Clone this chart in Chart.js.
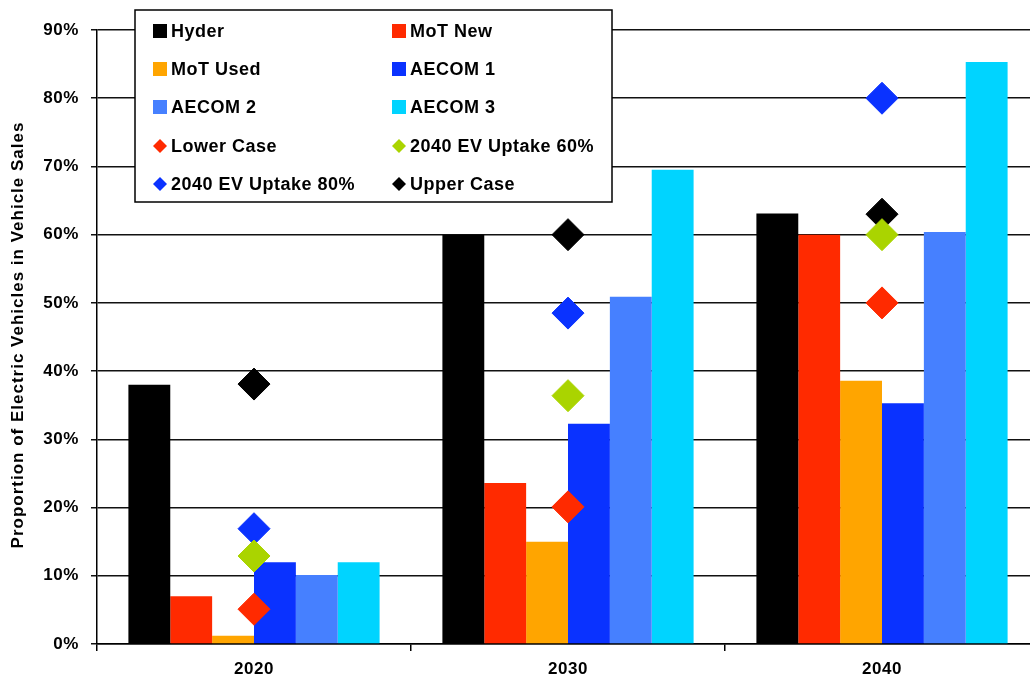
<!DOCTYPE html>
<html>
<head>
<meta charset="utf-8">
<script src="https://cdn.jsdelivr.net/npm/chart.js@4"></script>
<style>
  html, body { margin: 0; padding: 0; overflow: hidden; background: #fff; }
  canvas { display: block; }
</style>
</head>
<body>
<canvas id="evChart" width="1040" height="682"></canvas>
<script>
const years = ['2020', '2030', '2040'];

// bar series (percent)
const hyder = [38, 60, 63.1];
const motNew = [7, 23.6, 60];
const motUsed = [1.2, 15, 38.6];
const aecom1 = [12, 32.3, 35.3];
const aecom2 = [10.1, 50.9, 60.4];
const aecom3 = [12, 69.5, 85.3];

// diamond markers (percent)
const lowerCase = [5.1, 20.1, 50];
const uptake60 = [12.9, 36.4, 60];
const uptake80 = [16.9, 48.5, 80];
const upperCase = [38.1, 60, 63];

const yTicks = [0, 10, 20, 30, 40, 50, 60, 70, 80, 90];
const yTitle = 'Proportion of Electric Vehicles in Vehicle Sales';

const FONT = "'Liberation Sans', Arial, sans-serif";

function bar(label, data, color) {
    return { type: 'bar', label, data, backgroundColor: color, borderWidth: 0, order: 2 };
}
function diamond(label, data, color) {
    return {
        type: 'line', label, data, showLine: false,
        pointStyle: 'rectRot', pointRadius: 16, pointHoverRadius: 16,
        backgroundColor: color, borderColor: color, pointBorderWidth: 1, order: 1
    };
}

const datasets = [
    bar('Hyder', hyder, '#000000'),
    bar('MoT New', motNew, '#ff2a00'),
    bar('MoT Used', motUsed, '#ffa500'),
    bar('AECOM 1', aecom1, '#0a32ff'),
    bar('AECOM 2', aecom2, '#4680ff'),
    bar('AECOM 3', aecom3, '#00d4ff'),
    diamond('Lower Case', lowerCase, '#ff2a00'),
    diamond('2040 EV Uptake 60%', uptake60, '#aad400'),
    diamond('2040 EV Uptake 80%', uptake80, '#0a32ff'),
    diamond('Upper Case', upperCase, '#000000'),
];

// the source renders text a little spaced out
const spacing = {
    id: 'spacing',
    beforeDraw(chart) { chart.ctx.letterSpacing = '0.6px'; }
};

// legend box inside the plot + rotated axis title
const boxLegend = {
    id: 'boxLegend',
    afterDraw(chart) {
        const ctx = chart.ctx;
        const x0 = 135, y0 = 10, w = 477, h = 192;
        ctx.save();
        ctx.fillStyle = '#fff';
        ctx.fillRect(x0, y0, w, h);
        ctx.strokeStyle = '#000';
        ctx.lineWidth = 1.5;
        ctx.strokeRect(x0, y0, w, h);
        ctx.font = 'bold 18px ' + FONT;
        ctx.letterSpacing = '0.5px';
        ctx.textBaseline = 'middle';
        const cols = [153, 392];
        const rows = [31, 69, 107, 146, 184];
        chart.data.datasets.forEach((ds, i) => {
            const cx = cols[i % 2], cy = rows[Math.floor(i / 2)];
            ctx.fillStyle = ds.backgroundColor;
            if (ds.type === 'bar') {
                ctx.fillRect(cx, cy - 7, 14, 14);
            } else {
                ctx.beginPath();
                ctx.moveTo(cx, cy);
                ctx.lineTo(cx + 7, cy - 7);
                ctx.lineTo(cx + 14, cy);
                ctx.lineTo(cx + 7, cy + 7);
                ctx.closePath();
                ctx.fill();
            }
            ctx.fillStyle = '#000';
            ctx.fillText(ds.label, cx + 18, cy + 1);
        });

        ctx.translate(18, 335);
        ctx.rotate(-Math.PI / 2);
        ctx.font = 'bold 17px ' + FONT;
        ctx.letterSpacing = '1px';
        ctx.textAlign = 'center';
        ctx.fillText(yTitle, 0, 0);
        ctx.restore();
    }
};

new Chart(document.getElementById('evChart'), {
    data: { labels: years, datasets },
    options: {
        responsive: false,
        animation: false,
        layout: { autoPadding: false, padding: { top: 30, right: 1, left: 0, bottom: 0 } },
        plugins: { legend: { display: false }, tooltip: { enabled: false } },
        datasets: { bar: { categoryPercentage: 0.8, barPercentage: 1.0 } },
        scales: {
            x: {
                grid: { display: true, drawOnChartArea: false, drawTicks: true, tickLength: 7, color: '#000', lineWidth: 1.5, offset: true },
                border: { color: '#000', width: 1.5 },
                ticks: { color: '#000', font: { family: FONT, size: 17, weight: 'bold' }, padding: 8 },
                afterFit(scale) {
                    scale.height = 38;
                    scale.paddingLeft = 0;
                    scale.paddingRight = 0;
                }
            },
            y: {
                min: 0, max: 90,
                afterBuildTicks(scale) { scale.ticks = yTicks.map(v => ({ value: v })); },
                grid: { color: '#111', lineWidth: 1.5, tickLength: 6 },
                border: { color: '#000', width: 1.5 },
                ticks: {
                    color: '#000', padding: 12,
                    font: { family: FONT, size: 17, weight: 'bold' },
                    callback: v => v + '%'
                },
                afterFit(scale) {
                    scale.width = 97;
                    scale.paddingTop = 0;
                    scale.paddingBottom = 0;
                }
            }
        }
    },
    plugins: [spacing, boxLegend]
});
</script>
</body>
</html>
